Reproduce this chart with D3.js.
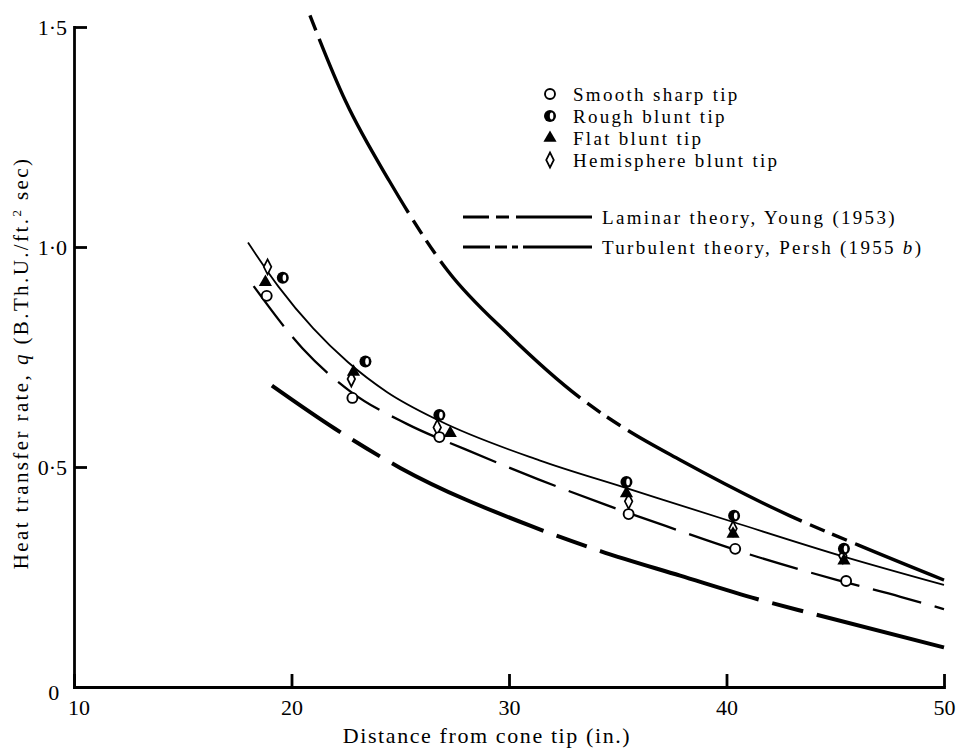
<!DOCTYPE html>
<html lang="en">
<head>
    <meta charset="utf-8">
    <title>Heat transfer on cone</title>
    <script type="text/javascript" src="https://d3js.org/d3.v7.min.js"></script>
    <style>
        body { margin: 0; background: white; }
        text { font-family: "Liberation Serif", "DejaVu Serif", serif; fill: black; }
        .axis path, .axis line { stroke: black; stroke-width: 2.8px; }
        .axis text { font-size: 22px; }
        .legend text { font-size: 19px; letter-spacing: 2.3px; }
    </style>
</head>
<body>
    <div id="chart"></div>
    <script type="text/javascript">
        const width = 958;
        const height = 750;

        // tick values
        const xTicks = [10, 20, 30, 40, 50];
        const yTicks = [0, 0.5, 1.0, 1.5];

        // measured points: [distance (in.), q]
        const smoothSharp = [[18.86, 0.889], [22.8, 0.657], [26.8, 0.568], [35.5, 0.393], [40.4, 0.314], [45.5, 0.241]];
        const roughBlunt = [[19.6, 0.93], [23.4, 0.74], [26.8, 0.618], [35.4, 0.466], [40.35, 0.389], [45.4, 0.314]];
        const flatBlunt = [[18.8, 0.92], [22.85, 0.716], [27.3, 0.577], [35.4, 0.44], [40.3, 0.348], [45.4, 0.287]];
        const hemisphereBlunt = [[18.9, 0.955], [22.75, 0.70], [26.7, 0.59], [35.5, 0.422], [40.3, 0.36], [45.35, 0.298]];

        // curves
        const fitCurve = [[18.0, 1.01], [19.4, 0.91], [21.0, 0.815], [22.6, 0.738], [24.4, 0.67], [26.8, 0.605], [31.4, 0.515], [35.4, 0.452], [40.3, 0.375], [45.35, 0.297], [50, 0.232]];
        const middleCurve = [[18.26, 0.911], [20.5, 0.77], [22.7, 0.672], [25.3, 0.598], [28.0, 0.54], [31.35, 0.472], [34.4, 0.415], [37.2, 0.366], [40.7, 0.307], [45.1, 0.243], [48, 0.205], [50, 0.177]];
        const laminarTheory = [[19.1, 0.685], [22, 0.587], [25, 0.498], [31, 0.366], [34.2, 0.309], [37.87, 0.253], [41.4, 0.2], [44, 0.166], [50, 0.09]];
        const turbulentTheory = [[20.74, 1.54], [22.5, 1.33], [24.5, 1.15], [27.2, 0.945], [30, 0.80], [33.6, 0.645], [35.44, 0.584], [37.87, 0.516], [42.92, 0.389], [46.04, 0.323], [50, 0.243]];

        const svg = d3.select("#chart")
            .append("svg")
            .attr("width", width)
            .attr("height", height);

        const x = d3.scaleLinear().domain([10, 50]).range([74, 944]);
        const y = d3.scaleLinear().domain([0, 1.5]).range([687, 27]);

        const fmtY = d => d === 0 ? "0" : d3.format(".1f")(d).replace(".", "\u00b7");

        // axes
        svg.append("g")
            .attr("class", "axis x")
            .attr("transform", `translate(0, ${y(0)})`)
            .call(d3.axisBottom(x).tickValues(xTicks).tickSizeInner(-13).tickSizeOuter(0).tickPadding(10).tickFormat(d3.format("d")))
            .call(g => g.selectAll(".tick text").attr("dy", "0.8em"))
            .call(g => g.selectAll(".tick").filter(d => d === 10).select("text").attr("dx", "0.2em"));

        svg.append("g")
            .attr("class", "axis y")
            .attr("transform", `translate(${x(10)}, 0)`)
            .call(d3.axisLeft(y).tickValues(yTicks).tickSizeInner(-13).tickSizeOuter(0).tickPadding(7).tickFormat(fmtY))
            .call(g => g.selectAll(".tick").filter(d => d === 0).select("text").attr("dy", "0.55em").attr("dx", "-0.35em"));

        svg.selectAll(".axis .domain").attr("stroke-linecap", "square");

        // axis titles
        svg.append("text")
            .attr("x", 487)
            .attr("y", 743)
            .attr("text-anchor", "middle")
            .style("font-size", "22px")
            .style("letter-spacing", "1.6px")
            .text("Distance from cone tip (in.)");

        const yTitle = svg.append("text")
            .attr("transform", "translate(28, 363) rotate(-90)")
            .attr("text-anchor", "middle")
            .style("font-size", "21px")
            .style("letter-spacing", "2.4px");
        yTitle.append("tspan").text("Heat transfer rate, ");
        yTitle.append("tspan").style("font-style", "italic").text("q");
        yTitle.append("tspan").text(" (B.Th.U./ft.");
        yTitle.append("tspan").attr("dy", -7).style("font-size", "13px").text("2");
        yTitle.append("tspan").attr("dy", 7).text(" sec)");

        // lines
        const line = d3.line()
            .x(d => x(d[0]))
            .y(d => y(d[1]))
            .curve(d3.curveMonotoneX);

        // place a dash pattern so that the dash starting at patternPos falls at distance xv
        function anchorDash(path, pattern, patternPos, xv) {
            const node = path.node();
            const total = node.getTotalLength();
            let lo = 0, hi = total;
            for (let i = 0; i < 40; i++) {
                const mid = (lo + hi) / 2;
                if (node.getPointAtLength(mid).x < x(xv)) lo = mid; else hi = mid;
            }
            const period = pattern.reduce((a, b) => a + b, 0);
            const offset = ((patternPos - lo) % period + period) % period;
            path.attr("stroke-dasharray", pattern.join(","))
                .attr("stroke-dashoffset", offset);
        }

        const lines = svg.append("g").attr("fill", "none").attr("stroke", "black");

        lines.append("path")
            .datum(fitCurve)
            .attr("d", line)
            .attr("stroke-width", 1.8);

        lines.append("path")
            .datum(middleCurve)
            .attr("d", line)
            .attr("stroke-width", 2.3)
            .attr("stroke-dasharray", "50,14");

        const lamPath = lines.append("path")
            .datum(laminarTheory)
            .attr("d", line)
            .attr("stroke-width", 4);
        anchorDash(lamPath, [166, 14, 32, 14], 180, 42.1);

        const turbPath = lines.append("path")
            .datum(turbulentTheory)
            .attr("d", line)
            .attr("stroke-width", 3.4);
        anchorDash(turbPath, [196, 9, 16, 8, 16, 9], 205, 33.6);

        // markers
        const markers = {
            smooth: g => g.append("circle").attr("r", 5).attr("fill", "white").attr("stroke", "black").attr("stroke-width", 1.9),
            rough: g => {
                g.append("circle").attr("r", 6).attr("fill", "black");
                g.append("ellipse").attr("cx", 1.6).attr("rx", 1.8).attr("ry", 3.4).attr("fill", "white");
            },
            flat: g => g.append("path").attr("d", d3.symbol(d3.symbolTriangle, 75)()).attr("fill", "black"),
            hemi: g => g.append("path").attr("d", "M0,-7.5L3.8,0L0,7.5L-3.8,0Z").attr("fill", "white").attr("stroke", "black").attr("stroke-width", 1.7)
        };

        function plotPoints(data, kind) {
            svg.append("g")
                .selectAll("g")
                .data(data)
                .enter()
                .append("g")
                .attr("transform", d => `translate(${x(d[0])}, ${y(d[1])})`)
                .each(function() { markers[kind](d3.select(this)); });
        }

        plotPoints(hemisphereBlunt, "hemi");
        plotPoints(flatBlunt, "flat");
        plotPoints(smoothSharp, "smooth");
        plotPoints(roughBlunt, "rough");

        // legend
        const legendItems = [
            {kind: "smooth", label: "Smooth sharp tip"},
            {kind: "rough", label: "Rough blunt tip"},
            {kind: "flat", label: "Flat blunt tip"},
            {kind: "hemi", label: "Hemisphere blunt tip"}
        ];
        const legend = svg.append("g").attr("class", "legend");
        legendItems.forEach((item, i) => {
            const ly = 94 + i * 22;
            const m = legend.append("g").attr("transform", `translate(550, ${ly})`);
            markers[item.kind](m);
            legend.append("text")
                .attr("x", 573)
                .attr("y", ly)
                .attr("dy", "0.35em")
                .text(item.label);
        });

        const lineItems = [
            {label: "Laminar theory, Young (1953)", dash: "26,7,13,7,90", y: 217},
            {label: "Turbulent theory, Persh (1955 ", italic: "b", dash: "27,5,12,5,6,5,90", y: 247}
        ];
        lineItems.forEach(item => {
            legend.append("line")
                .attr("x1", 463).attr("x2", 592)
                .attr("y1", item.y).attr("y2", item.y)
                .attr("stroke", "black")
                .attr("stroke-width", 3.2)
                .attr("stroke-dasharray", item.dash);
            const t = legend.append("text")
                .attr("x", 602)
                .attr("y", item.y)
                .attr("dy", "0.35em");
            t.append("tspan").text(item.label);
            if (item.italic) {
                t.append("tspan").style("font-style", "italic").text(item.italic);
                t.append("tspan").text(")");
            }
        });
    </script>
</body>
</html>
